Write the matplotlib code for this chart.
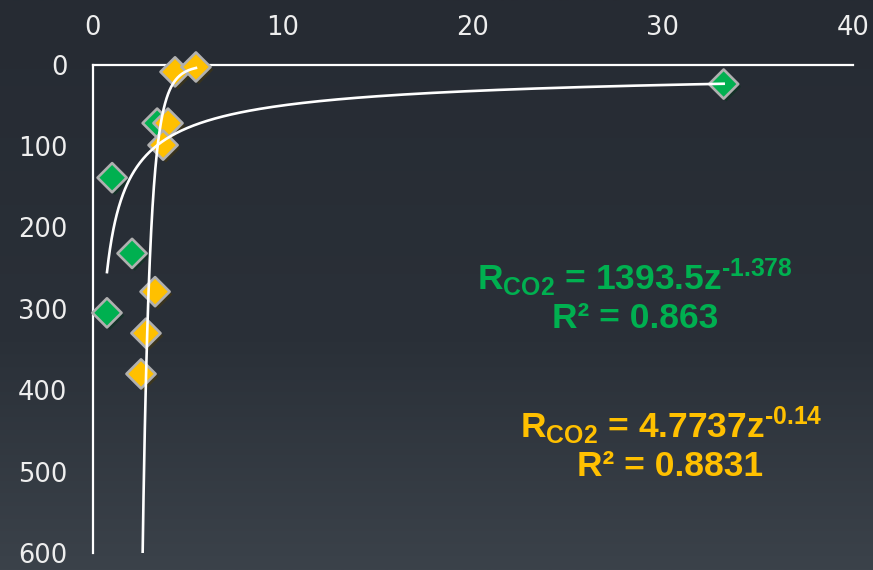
import numpy as np
import matplotlib
matplotlib.use('Agg')
import matplotlib.pyplot as plt
import matplotlib.patheffects as pe
from matplotlib.colors import LinearSegmentedColormap

plt.rcParams['font.family'] = ['DejaVu Sans']
plt.rcParams['mathtext.fontset'] = 'custom'
plt.rcParams['mathtext.rm'] = 'Liberation Sans:bold'
plt.rcParams['mathtext.it'] = 'Liberation Sans:bold'
plt.rcParams['mathtext.bf'] = 'Liberation Sans:bold'
plt.rcParams['mathtext.default'] = 'rm'

# 速率 R (x) 与深度 z (y)
r_green = [3.4, 1.03, 2.08, 0.76, 33.2]
z_green = [72, 139, 232, 305, 24]
r_yellow = [4.34, 5.44, 3.97, 3.71, 3.29, 2.81, 2.55]
z_yellow = [9, 3, 72, 99, 279, 330, 380]

x_ticks = [0, 10, 20, 30, 40]
y_ticks = [0, 100, 200, 300, 400, 500, 600]

eq_green = [r'R$_{CO2}$ = 1393.5z$^{\text{-}1.378}$', 'R² = 0.863']
eq_yellow = [r'R$_{CO2}$ = 4.7737z$^{\text{-}0.14}$', 'R² = 0.8831']

green = '#00b050'
yellow = '#ffc000'
edge = '#b0b0b0'


def power_trend(r, z):
    # 幂函数趋势线 z = a * R^b, 在对数空间最小二乘拟合
    b, ln_a = np.polyfit(np.log(r), np.log(z), 1)
    rr = np.geomspace(min(r), max(r), 300)
    return rr, np.exp(ln_a) * rr ** b


fig = plt.figure(figsize=(8.73, 5.70), dpi=100)

# 背景渐变
bg = fig.add_axes([0, 0, 1, 1], zorder=-10)
cmap = LinearSegmentedColormap.from_list(
    'bg', [(0, '#262b33'), (0.6, '#2a3038'), (1, '#3b424a')])
bg.imshow(np.linspace(0, 1, 256).reshape(-1, 1), aspect='auto', cmap=cmap,
          extent=[0, 1, 0, 1], origin='upper')
bg.axis('off')

ax = fig.add_axes([0.106, 0.0298, 0.871, 0.857])
ax.patch.set_alpha(0)
ax.set_xlim(0, 40)
ax.set_ylim(600, 0)

for s in ['right', 'bottom']:
    ax.spines[s].set_visible(False)
for s in ['top', 'left']:
    ax.spines[s].set_color('white')
    ax.spines[s].set_linewidth(1.6)

ax.xaxis.tick_top()
ax.set_xticks(x_ticks)
ax.set_yticks(y_ticks)
ax.tick_params(axis='both', length=0, labelsize=18.5, colors='#eeeeee')
ax.tick_params(axis='x', pad=17)
ax.tick_params(axis='y', pad=18)

shadow = [pe.SimplePatchShadow(offset=(2, -2), alpha=0.45), pe.Normal()]
ax.scatter(r_green, z_green, marker='D', s=220, color=green,
           edgecolors=edge, linewidths=1.9, zorder=3, path_effects=shadow,
           clip_on=False)
ax.scatter(r_yellow, z_yellow, marker='D', s=220, color=yellow,
           edgecolors=edge, linewidths=1.9, zorder=3, path_effects=shadow,
           clip_on=False)

for r, z in [(r_green, z_green), (r_yellow, z_yellow)]:
    rr, zz = power_trend(r, z)
    ax.plot(rr, zz, color='white', lw=1.9, zorder=4)

txt = dict(fontsize=25.5, fontweight='bold', family='Liberation Sans',
           ha='center', va='center')
fig.text(635 / 873, 1 - 278 / 570, eq_green[0], color=green, **txt)
fig.text(635 / 873, 1 - 318 / 570, eq_green[1], color=green, **txt)
fig.text(671 / 873, 1 - 426 / 570, eq_yellow[0], color=yellow, **txt)
fig.text(670 / 873, 1 - 466 / 570, eq_yellow[1], color=yellow, **txt)

fig.savefig('out.png', dpi=100)
